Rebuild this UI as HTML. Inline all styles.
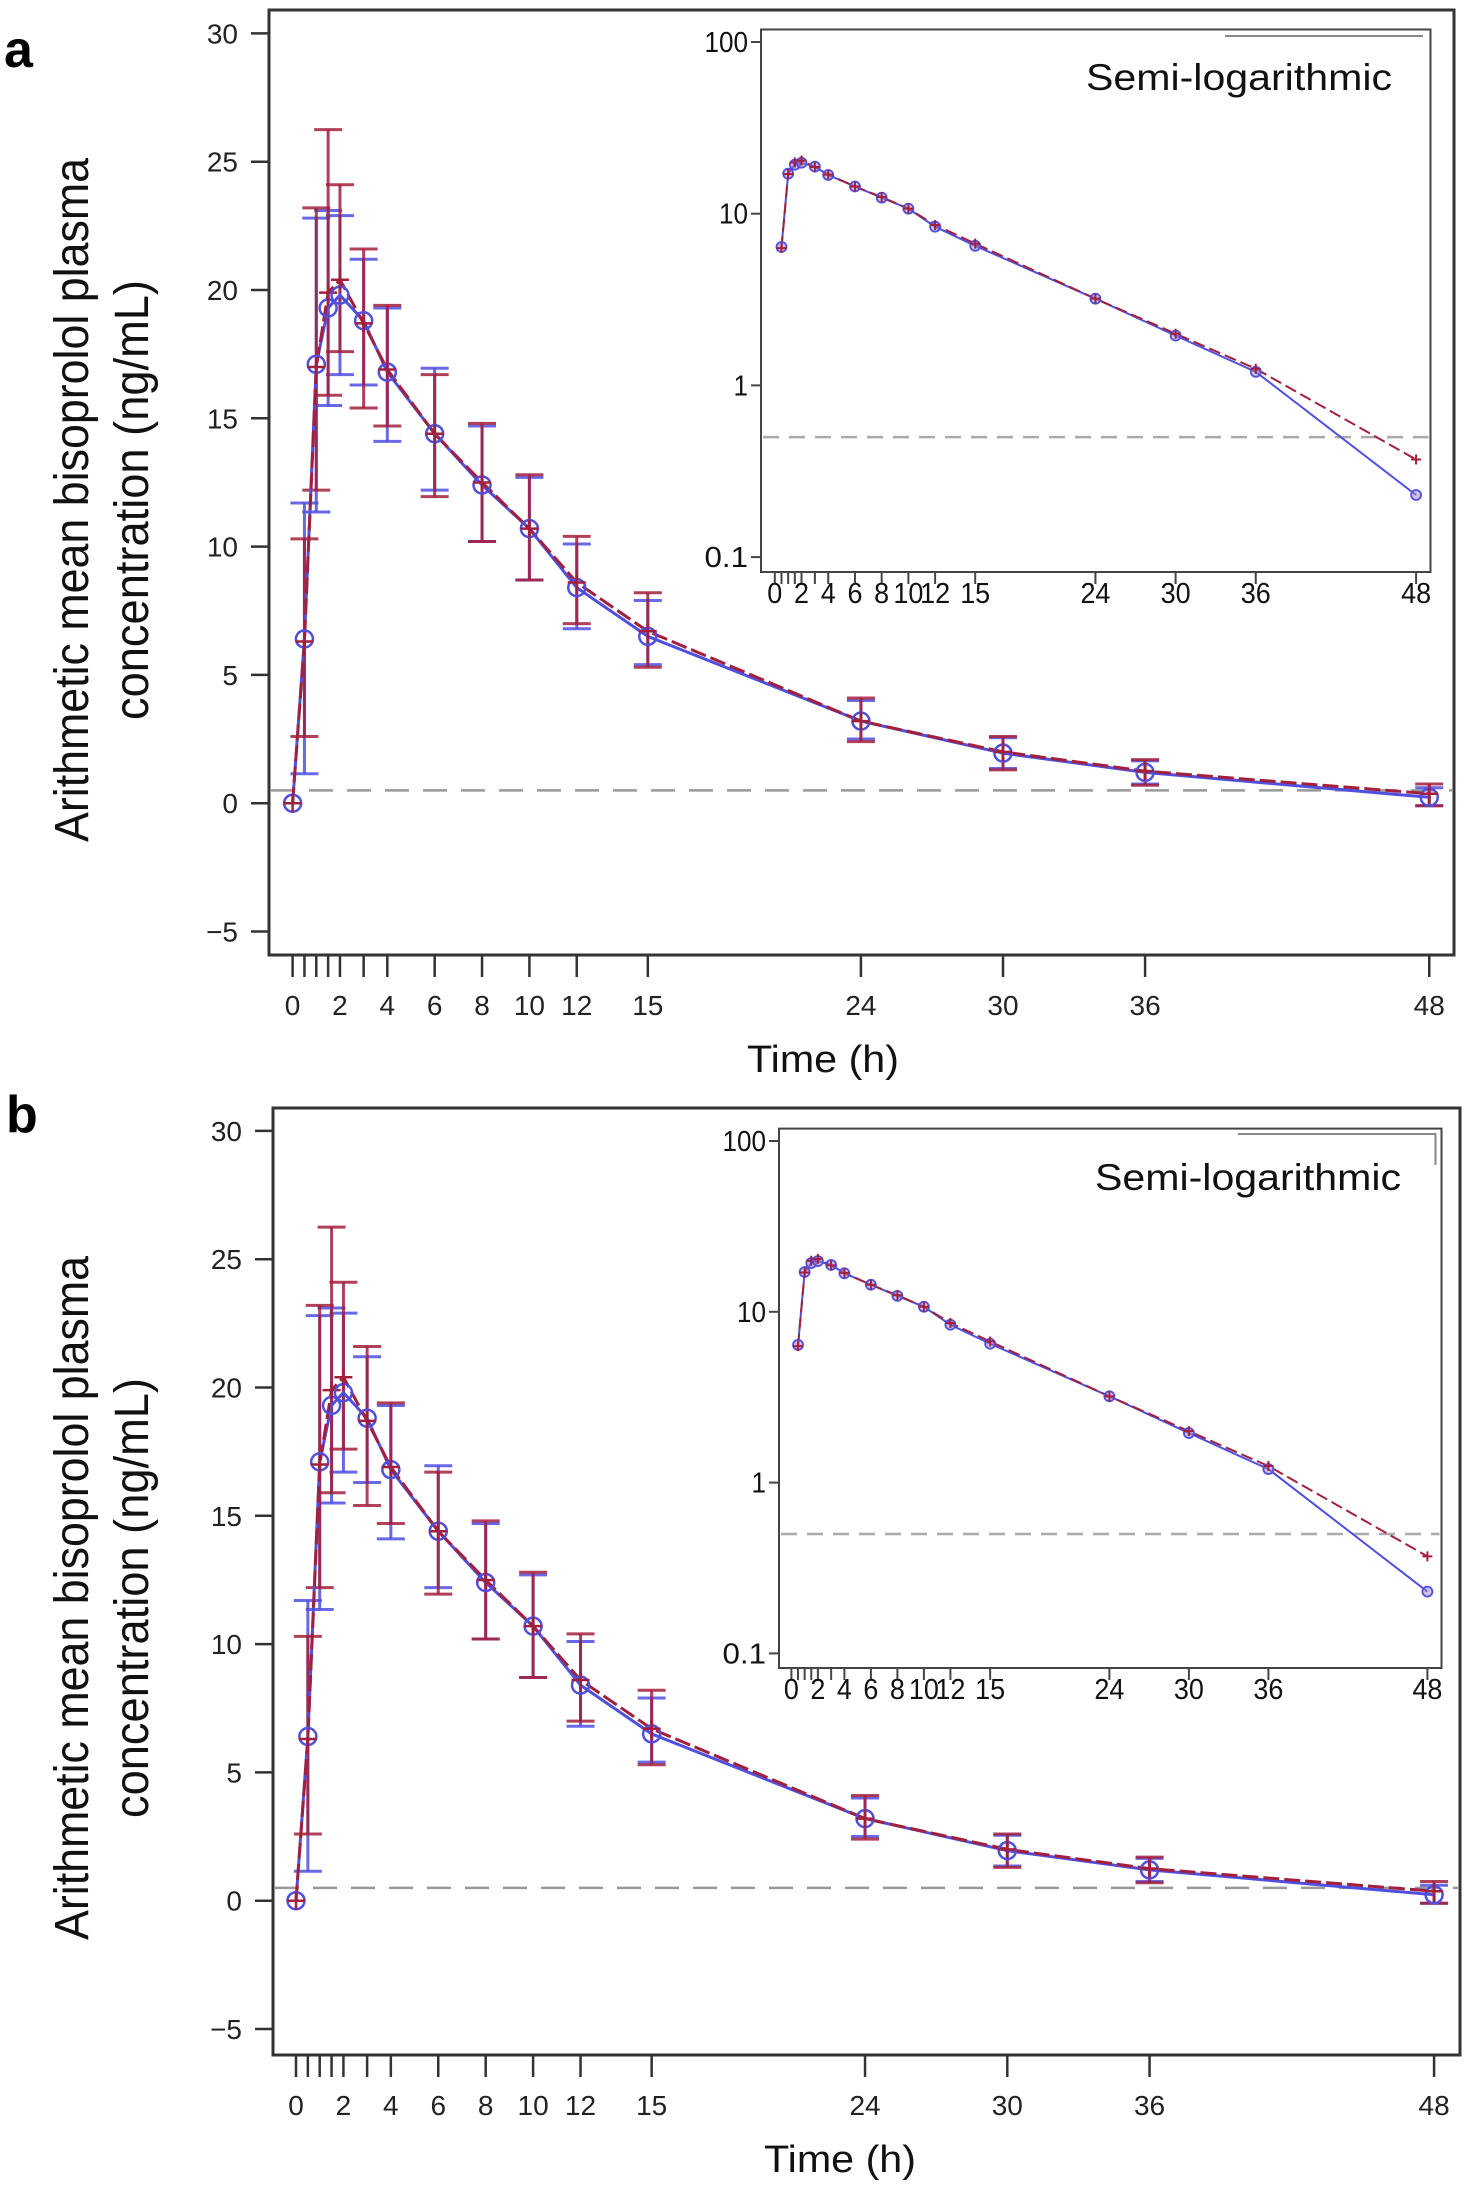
<!DOCTYPE html>
<html><head><meta charset="utf-8"><style>
html,body{margin:0;padding:0;background:#fff;}
svg{display:block;font-family:"Liberation Sans",Arial,sans-serif;}
</style></head><body>
<svg id="fig" width="1475" height="2186" viewBox="0 0 1475 2186" xmlns="http://www.w3.org/2000/svg"></svg>
<script>
const times = [0,0.5,1,1.5,2,3,4,6,8,10,12,15,24,30,36,48];
const blueMean = [0,6.4,17.1,19.3,19.8,18.8,16.8,14.4,12.4,10.7,8.4,6.5,3.2,1.95,1.2,0.23];
const blueLo = [0,1.15,11.35,15.5,16.7,16.3,14.1,12.2,10.2,8.7,6.8,5.4,2.5,1.35,0.75,-0.1];
const blueHi = [0,11.7,22.8,23.1,22.9,21.2,19.3,16.95,14.7,12.7,10.1,7.9,4.0,2.55,1.65,0.6];
const redMean = [0,6.3,17.0,19.9,20.4,18.7,16.9,14.4,12.5,10.7,8.6,6.7,3.2,2.0,1.25,0.37];
const redLo = [0,2.6,12.2,15.9,17.6,15.4,14.7,11.95,10.2,8.7,7.0,5.3,2.4,1.3,0.7,-0.1];
const redHi = [0,10.3,23.2,26.25,24.1,21.6,19.4,16.7,14.8,12.8,10.4,8.2,4.1,2.6,1.7,0.75];
const xTickLabels = [0,2,4,6,8,10,12,15,24,30,36,48];
const yTickLabels = [-5,0,5,10,15,20,25,30];
const logTickLabels = [0.1,1,10,100];
const lloq = 0.5;

const NS="http://www.w3.org/2000/svg";
const svg=document.getElementById('fig');
function mk(tag,attrs,parent,text){const e=document.createElementNS(NS,tag);for(const k in attrs)e.setAttribute(k,attrs[k]);if(text!==undefined)e.textContent=text;(parent||svg).appendChild(e);return e;}
const BLUE="#4f4fe0", RED="#a3203c";

function panel(P){
  const g=mk('g',{});
  
  
  const X=t=>P.x0+t*P.xs, Y=v=>P.y0-v*P.ys;
  // panel letter
  let t=mk('text',{x:P.lx,y:P.ly,'font-size':52,'font-weight':'bold',fill:'#000'},g,P.id);
  
  
  // frame
  let f=mk('rect',{x:P.L,y:P.T,width:P.R-P.L,height:P.B-P.T,fill:'none',stroke:'#333','stroke-width':3},g);
  
  
  // y ticks
  yTickLabels.forEach(v=>{
    mk('line',{x1:P.L-18,x2:P.L,y1:Y(v),y2:Y(v),stroke:'#333','stroke-width':2.5},g);
    let tl=mk('text',{x:P.L-31,y:Y(v)+10,'font-size':28,'text-anchor':'end',fill:'#222'},g,v<0?'\u2212'+(-v):String(v));
    
    
  });
  // x ticks
  times.forEach(tm=>mk('line',{x1:X(tm),x2:X(tm),y1:P.B,y2:P.B+22,stroke:'#333','stroke-width':2.5},g));
  xTickLabels.forEach(tm=>{
    let tl=mk('text',{x:X(tm),y:P.B+60,'font-size':28,'text-anchor':'middle',fill:'#222'},g,String(tm));
    
    
  });
  let xt=mk('text',{x:P.txc,y:P.B+117,'font-size':38,'text-anchor':'middle',fill:'#111',textLength:152,lengthAdjust:'spacingAndGlyphs'},g,'Time (h)');
  
  
  const yt=mk('g',{transform:`translate(0,${P.ycy}) rotate(-90)`},g);
  
  
  mk('text',{x:0,y:88,'font-size':48,'text-anchor':'middle',fill:'#111',textLength:684,lengthAdjust:'spacingAndGlyphs'},yt,'Arithmetic mean bisoprolol plasma');
  mk('text',{x:0,y:148,'font-size':48,'text-anchor':'middle',fill:'#111',textLength:440,lengthAdjust:'spacingAndGlyphs'},yt,'concentration (ng/mL)');
  // lloq
  let ll=mk('line',{x1:P.L+2,x2:P.R-2,y1:Y(lloq),y2:Y(lloq),stroke:'#999','stroke-width':2.5,'stroke-dasharray':'24 14'},g);
  
  
  // error bars
  function ebars(lo,hi,col,name){
    const eg=mk('g',{stroke:col,'stroke-width':3,'stroke-opacity':0.85},g);
    
    
    times.forEach((tm,i)=>{ if(hi[i]===lo[i])return;
      const x=X(tm);
      mk('line',{x1:x,x2:x,y1:Y(lo[i]),y2:Y(hi[i])},eg);
      mk('line',{x1:x-14,x2:x+14,y1:Y(lo[i]),y2:Y(lo[i])},eg);
      mk('line',{x1:x-14,x2:x+14,y1:Y(hi[i]),y2:Y(hi[i])},eg);
    });
  }
  ebars(blueLo,blueHi,BLUE,'error-bars-blue');
  ebars(redLo,redHi,RED,'error-bars-red');
  let bl=mk('polyline',{points:times.map((tm,i)=>X(tm)+','+Y(blueMean[i])).join(' '),fill:'none',stroke:BLUE,'stroke-width':3},g);
  
  
  let rl=mk('polyline',{points:times.map((tm,i)=>X(tm)+','+Y(redMean[i])).join(' '),fill:'none',stroke:RED,'stroke-width':3,'stroke-dasharray':'16 5'},g);
  
  
  times.forEach((tm,i)=>{
    let c=mk('circle',{cx:X(tm),cy:Y(blueMean[i]),r:8.5,fill:'none',stroke:BLUE,'stroke-width':2.5},g);
    
    
    const x=X(tm),y=Y(redMean[i]);
    let p=mk('path',{d:`M${x-9},${y}H${x+9}M${x},${y-9}V${y+9}`,stroke:RED,'stroke-width':2.5},g);
    
    
  });
  // inset
  const I=P.inset;
  const ig=mk('g',{},g);
  
  
  const IX=t=>I.x0+t*I.xs, IY=v=>I.y100+(2-Math.log10(v))*I.dec;
  mk('rect',{x:I.L,y:I.T,width:I.R-I.L,height:I.B-I.T,fill:'#fff',stroke:'#444','stroke-width':2},ig);
  mk('path',{d:I.deco,fill:'none',stroke:'#888','stroke-width':2},ig);
  let st=mk('text',{x:I.tx,y:I.ty,'font-size':37,fill:'#111',textLength:306,lengthAdjust:'spacingAndGlyphs'},ig,'Semi-logarithmic');
  
  
  logTickLabels.forEach(v=>{
    mk('line',{x1:I.L-10,x2:I.L,y1:IY(v),y2:IY(v),stroke:'#444','stroke-width':2},ig);
    let tl=mk('text',{x:I.L-13,y:IY(v)+10,'font-size':29,'text-anchor':'end',fill:'#111',textLength:String(v).length*14.5,lengthAdjust:'spacingAndGlyphs'},ig,String(v));
    
    
  });
  times.forEach(tm=>mk('line',{x1:IX(tm),x2:IX(tm),y1:I.B,y2:I.B+12,stroke:'#444','stroke-width':2},ig));
  xTickLabels.forEach(tm=>{
    let tl=mk('text',{x:IX(tm),y:I.B+31,'font-size':29,'text-anchor':'middle',fill:'#111',textLength:String(tm).length*15,lengthAdjust:'spacingAndGlyphs'},ig,String(tm));
    
    
  });
  mk('line',{x1:I.L+2,x2:I.R-2,y1:IY(lloq),y2:IY(lloq),stroke:'#aaa','stroke-width':2.5,'stroke-dasharray':'16 10'},ig);
  const idx=times.map((_,i)=>i).filter(i=>times[i]>0);
  mk('polyline',{points:idx.map(i=>IX(times[i])+','+IY(blueMean[i])).join(' '),fill:'none',stroke:BLUE,'stroke-width':2},ig);
  mk('polyline',{points:idx.map(i=>IX(times[i])+','+IY(redMean[i])).join(' '),fill:'none',stroke:RED,'stroke-width':2,'stroke-dasharray':'12 5'},ig);
  idx.forEach(i=>{
    let c=mk('circle',{cx:IX(times[i]),cy:IY(blueMean[i]),r:5,fill:'rgba(160,130,200,0.5)',stroke:BLUE,'stroke-width':1.8},ig);
    
    
    const x=IX(times[i]),y=IY(redMean[i]);
    let p=mk('path',{d:`M${x-5},${y}H${x+5}M${x},${y-5}V${y+5}`,stroke:RED,'stroke-width':2},ig);
    
    
  });
}

panel({id:'a',lx:4,ly:67,L:269,T:10,R:1454,B:955,x0:292.6,xs:23.68,y0:803.2,ys:25.66,txc:823,ycy:500,
  inset:{L:761,T:29.5,R:1430.5,B:572,x0:774.8,xs:13.36,y100:42,dec:171.7,tx:1086,ty:90,deco:'M1225,36H1423'}});
panel({id:'b',lx:6,ly:1132,L:273,T:1108,R:1460,B:2055,x0:296,xs:23.71,y0:1900.7,ys:25.66,txc:840,ycy:1598,
  inset:{L:779,T:1128.6,R:1441.5,B:1668,x0:791.4,xs:13.25,y100:1141,dec:170.8,tx:1095,ty:1190,deco:'M1238,1134H1435.5V1165'}});
</script>
</body></html>
